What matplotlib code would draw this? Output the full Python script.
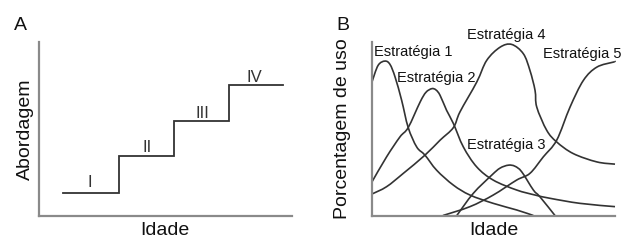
import matplotlib
matplotlib.use("Agg")
import matplotlib.pyplot as plt
from matplotlib.path import Path
from matplotlib.patches import PathPatch

plt.rcParams['font.family'] = ['Liberation Sans', 'DejaVu Sans']

# ---------- Panel A data ----------
step_edges = [9.5, 31.6, 53.4, 75.1, 96.4]
step_levels = [13.2, 34.5, 54.6, 75.3]
stage_labels = ["I", "II", "III", "IV"]
stage_label_x = [20.2, 43.0, 64.8, 85.0]
stage_label_y = [19.0, 39.0, 59.0, 79.3]

# ---------- Panel B data ----------
s1_x = [0, 2.5, 5.3, 7.4, 9.5, 12.2, 14.9, 18.4, 21.8, 26.6, 33.5, 40.3, 49.9, 59.5, 66.4]
s1_y = [77, 86.5, 89.0, 87.1, 79.8, 66.4, 50.7, 39.5, 34.8, 26.1, 17.5, 11.8, 7.0, 3.2, 0]

s2_x = [0, 6.0, 11.5, 14.9, 19.8, 22.2, 24.6, 26.3, 28.0, 30.7, 33.5, 37.6, 43.1, 49.9,
        59.5, 67.1, 73.3, 85.6, 100]
s2_y = [19.4, 33.8, 45.3, 50.7, 65.4, 71.0, 73.1, 72.4, 69.3, 60.6, 53.0, 39.5, 28.0, 20.4,
        14.7, 11.8, 9.9, 7.0, 5.1]

s3_x = [34.9, 41.7, 49.3, 52.7, 56.1, 58.8, 61.6, 66.4, 69.1, 75.3]
s3_y = [0, 12.8, 23.3, 27.3, 29.0, 28.4, 25.2, 14.7, 10.8, 0]

s4_x = [0, 6.0, 12.9, 21.8, 28.0, 33.5, 36.2, 43.1, 47.2, 52.7, 57.5, 62.3, 65.0, 67.1,
        67.8, 71.9, 76.0, 82.8, 92.5, 100]
s4_y = [12.4, 16.6, 24.3, 34.8, 43.4, 50.7, 59.7, 76.9, 89.4, 97.0, 98.6, 93.2, 83.6, 72.1,
        62.5, 49.1, 42.4, 35.7, 30.9, 29.6]

s5_x = [29.2, 40.3, 49.9, 59.5, 65.0, 70.5, 76.0, 81.5, 87.0, 92.5, 99.3, 100]
s5_y = [0, 5.1, 11.8, 20.4, 24.3, 33.8, 43.4, 62.5, 77.9, 85.5, 88.4, 88.5]

series = [(s1_x, s1_y), (s2_x, s2_y), (s3_x, s3_y), (s4_x, s4_y), (s5_x, s5_y)]
strategy_labels = ["Estratégia 1", "Estratégia 2", "Estratégia 3", "Estratégia 4", "Estratégia 5"]
strategy_label_x = [17.1, 26.5, 55.1, 55.1, 86.6]
strategy_label_y = [94.5, 79.0, 40.5, 104.0, 93.0]

W, H = 625, 240
fig = plt.figure(figsize=(W / 100, H / 100), dpi=100)

axis_color = "#8a8a8a"
line_color = "#333333"


def make_axes(left, right, top, bottom):
    ax = fig.add_axes([left / W, (H - bottom) / H, (right - left) / W, (bottom - top) / H])
    ax.set_xlim(0, 100)
    ax.set_ylim(0, 100)
    for side in ("top", "right"):
        ax.spines[side].set_visible(False)
    for side in ("left", "bottom"):
        ax.spines[side].set_color(axis_color)
        ax.spines[side].set_linewidth(1.6)
    ax.set_xticks([])
    ax.set_yticks([])
    ax.patch.set_alpha(0)
    return ax


def smooth_path(xs, ys):
    """Smooth (Catmull-Rom style) Bezier path through the given points."""
    pts = list(zip(xs, ys))
    n = len(pts)
    verts = [pts[0]]
    codes = [Path.MOVETO]
    for i in range(n - 1):
        p0 = pts[i - 1] if i > 0 else pts[i]
        p1 = pts[i]
        p2 = pts[i + 1]
        p3 = pts[i + 2] if i + 2 < n else pts[i + 1]
        c1 = (p1[0] + (p2[0] - p0[0]) / 6.0, p1[1] + (p2[1] - p0[1]) / 6.0)
        c2 = (p2[0] - (p3[0] - p1[0]) / 6.0, p2[1] - (p3[1] - p1[1]) / 6.0)
        verts += [c1, c2, p2]
        codes += [Path.CURVE4] * 3
    return Path(verts, codes)


# ---------- Panel A ----------
axA = make_axes(38.5, 292, 42, 215.5)
xs, ys = [], []
for i, lvl in enumerate(step_levels):
    xs += [step_edges[i], step_edges[i + 1]]
    ys += [lvl, lvl]
axA.plot(xs, ys, color=line_color, lw=1.3, solid_joinstyle="miter")
for lab, lx, ly in zip(stage_labels, stage_label_x, stage_label_y):
    axA.text(lx, ly, lab, ha="center", va="center", fontsize=12, color="#333333")
axA.set_xlabel("Idade", fontsize=14, labelpad=4.5, color="#111111")
axA.set_ylabel("Abordagem", fontsize=14, labelpad=3.5, color="#111111")
fig.text(20 / W, (H - 25) / H, "A", fontsize=14, ha="center", va="center", color="#111111")

# ---------- Panel B ----------
axB = make_axes(372, 615, 42, 215.5)
for sx, sy in series:
    axB.add_patch(PathPatch(smooth_path(sx, sy), facecolor="none", edgecolor=line_color,
                            lw=1.2, clip_on=False))
for lab, lx, ly in zip(strategy_labels, strategy_label_x, strategy_label_y):
    axB.text(lx, ly, lab, ha="center", va="center", fontsize=10.5, color="#111111", clip_on=False)
axB.set_xlabel("Idade", fontsize=14, labelpad=4.5, color="#111111")
axB.set_ylabel("Porcentagem de uso", fontsize=14, labelpad=15, color="#111111")
fig.text(343 / W, (H - 25) / H, "B", fontsize=14, ha="center", va="center", color="#111111")

fig.savefig("out.png", dpi=100)
